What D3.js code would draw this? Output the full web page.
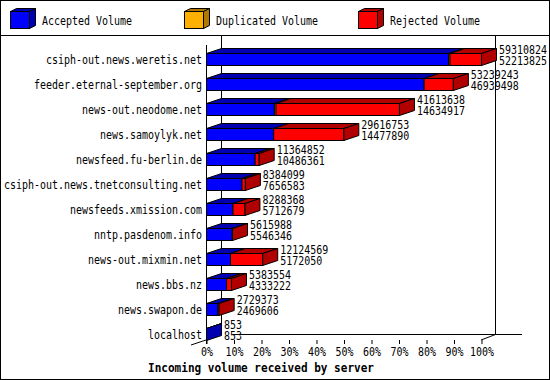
<!DOCTYPE html>
<html>
<head>
<meta charset="utf-8">
<script src="https://cdn.jsdelivr.net/npm/d3@7"></script>
<style>
  body { margin: 0; background: #fff; }
  text { font-family: "DejaVu Sans Mono", monospace; font-size: 12px; fill: #000; }
</style>
</head>
<body>
<div id="chart"></div>
<script>
// data
const servers = [
  "csiph-out.news.weretis.net", "feeder.eternal-september.org", "news-out.neodome.net",
  "news.samoylyk.net", "newsfeed.fu-berlin.de", "csiph-out.news.tnetconsulting.net",
  "newsfeeds.xmission.com", "nntp.pasdenom.info", "news-out.mixmin.net",
  "news.bbs.nz", "news.swapon.de", "localhost"
];
const totalVol = [59310824, 53239243, 41613638, 29616753, 11364852, 8384099,
                  8288368, 5615988, 12124569, 5383554, 2729373, 853];
const acceptedVol = [52213825, 46939498, 14634917, 14477890, 10486361, 7656583,
                     5712679, 5546346, 5172050, 4333222, 2469606, 853];
// duplicated only shows as thin slivers, estimated
const duplicatedVol = [300000, 0, 350000, 0, 0, 0, 0, 0, 0, 0, 0, 0];
const rejectedVol = [6796999, 6299745, 26628721, 15138863, 878491, 727516,
                     2575689, 69642, 6952519, 1050332, 259767, 0];
const pctTicks = [0, 0.1, 0.2, 0.3, 0.4, 0.5, 0.6, 0.7, 0.8, 0.9, 1];

const legendNames = ["Accepted Volume", "Duplicated Volume", "Rejected Volume"];
const colors = ["#0000ff", "#ffb000", "#ff0000"];
const darkColors = ["#0000b0", "#b07800", "#b00000"];

const width = 550, height = 380;
const dx = 15, dy = 5;      // 3d depth offset
const charW = 6;

const svg = d3.select("#chart").append("svg")
  .attr("width", width).attr("height", height);

// outer frame + legend separator
svg.append("rect").attr("x", 0.5).attr("y", 0.5)
  .attr("width", width - 1).attr("height", height - 1)
  .attr("fill", "#fff").attr("stroke", "#000");
svg.append("line").attr("x1", 0).attr("x2", width).attr("y1", 35.5).attr("y2", 35.5)
  .attr("stroke", "#000");

// legend cubes
const legendX = [10, 184, 358];
legendNames.forEach((name, i) => {
  const x = legendX[i] + 0.5, y = 11.5, w = 19, h = 17, d = 6, e = 3;
  const g = svg.append("g");
  g.append("polygon")
    .attr("points", [[x, y], [x + d, y - e], [x + w + d, y - e], [x + w, y]].join(" "))
    .attr("fill", darkColors[i]).attr("stroke", "#000");
  g.append("polygon")
    .attr("points", [[x + w, y], [x + w + d, y - e], [x + w + d, y + h - e], [x + w, y + h]].join(" "))
    .attr("fill", darkColors[i]).attr("stroke", "#000");
  g.append("rect").attr("x", x).attr("y", y).attr("width", w).attr("height", h)
    .attr("fill", colors[i]).attr("stroke", "#000");
  g.append("text").attr("x", legendX[i] + 32).attr("y", 24.5)
    .attr("textLength", name.length * charW).attr("lengthAdjust", "spacingAndGlyphs")
    .text(name);
});

// scales
const x = d3.scaleLinear().domain([0, d3.max(totalVol)]).range([206, 481]);
const xPct = d3.scaleLinear().domain([0, 1]).range([206, 481]);
const y = d3.scaleBand().domain(servers).range([46.5, 346.5])
  .paddingInner(0.52).paddingOuter(0.26);

// frame lines
const frame = svg.append("g").attr("stroke", "#000").attr("fill", "none");
frame.append("line").attr("x1", 221.5).attr("x2", 221.5).attr("y1", 35).attr("y2", 335);
frame.append("line").attr("x1", 495.5).attr("x2", 495.5).attr("y1", 35).attr("y2", 334.5);
frame.append("line").attr("x1", 233).attr("x2", 522).attr("y1", 334.5).attr("y2", 334.5);
frame.append("line").attr("x1", 206.5).attr("x2", 206.5).attr("y1", 45).attr("y2", 344);
frame.append("line").attr("x1", 191).attr("x2", 221).attr("y1", 345).attr("y2", 335);
frame.append("line").attr("x1", 481).attr("x2", 495.5).attr("y1", 340).attr("y2", 334.5);

// percent axis
const axis = svg.append("g")
  .attr("transform", "translate(0.5,340)")
  .call(d3.axisBottom(xPct).tickValues(pctTicks).tickSize(4).tickPadding(3)
    .tickFormat(d => Math.round(d * 100) + "%"));
axis.select(".domain").remove();
axis.selectAll("text")
  .attr("font-family", "DejaVu Sans Mono").attr("font-size", 12)
  .attr("textLength", function () { return this.textContent.length * charW; })
  .attr("lengthAdjust", "spacingAndGlyphs");

// bars
const rows = servers.map((s, i) => ({
  name: s, total: totalVol[i], acc: acceptedVol[i],
  segs: [acceptedVol[i], duplicatedVol[i], rejectedVol[i]]
}));

rows.forEach(r => {
  const g = svg.append("g");
  const y0 = Math.round(y(r.name)) + 0.5, y1 = y0 + y.bandwidth();
  let cum = 0, lastIdx = 0;
  r.segs.forEach((v, k) => {
    if (v <= 0) return;
    const xa = x(cum) + 0.5, xb = x(cum + v) + 0.5;
    cum += v; lastIdx = k;
    g.append("polygon")
      .attr("points", [[xa, y0], [xa + dx, y0 - dy], [xb + dx, y0 - dy], [xb, y0]].join(" "))
      .attr("fill", darkColors[k]).attr("stroke", "#000");
    g.append("rect").attr("x", xa).attr("y", y0).attr("width", xb - xa).attr("height", y1 - y0)
      .attr("fill", colors[k]).attr("stroke", "#000");
  });
  const xe = x(r.total) + 0.5;
  g.append("polygon")
    .attr("points", [[xe, y0], [xe + dx, y0 - dy], [xe + dx, y1 - dy], [xe, y1]].join(" "))
    .attr("fill", darkColors[lastIdx]).attr("stroke", "#000");

  const c = y(r.name) + y.bandwidth() / 2;
  const tx = x(r.total) + dx + 3;
  [[String(r.total), c - 5], [String(r.acc), c + 6]].forEach(([t, ty]) => {
    g.append("text").attr("x", tx).attr("y", ty)
      .attr("font-size", 11.5)
      .attr("textLength", t.length * charW).attr("lengthAdjust", "spacingAndGlyphs")
      .text(t);
  });

  svg.append("text").attr("x", 202).attr("y", c + 4.5)
    .attr("text-anchor", "end")
    .attr("textLength", r.name.length * charW).attr("lengthAdjust", "spacingAndGlyphs")
    .text(r.name);
});

// title at the bottom
svg.append("text").attr("x", 261).attr("y", 371.5)
  .attr("text-anchor", "middle").attr("font-weight", "bold")
  .attr("textLength", 226).attr("lengthAdjust", "spacingAndGlyphs")
  .text("Incoming volume received by server");
</script>
</body>
</html>
